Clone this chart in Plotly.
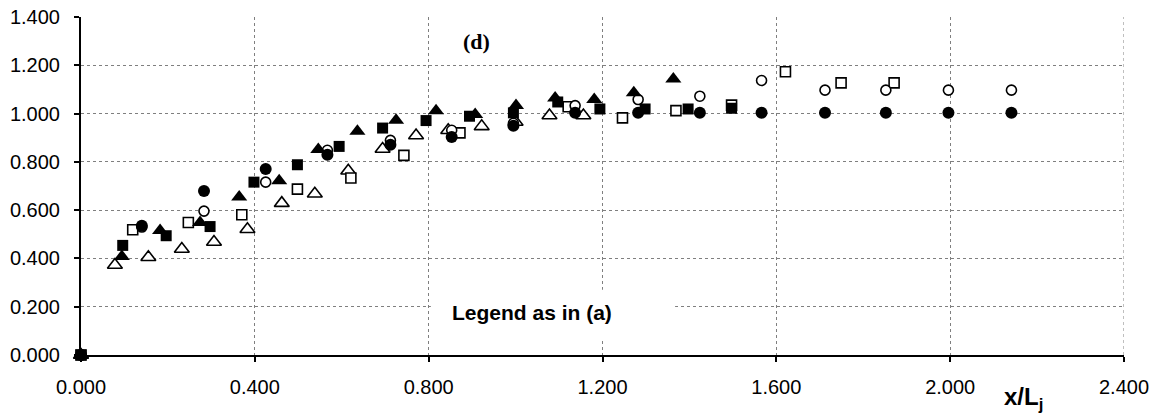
import plotly.graph_objects as go

# Filled circles
fc_x = [0.000, 0.140, 0.283, 0.425, 0.567, 0.712, 0.853, 0.995, 1.137, 1.282, 1.424, 1.566, 1.712, 1.852, 1.996, 2.141]
fc_y = [0.000, 0.535, 0.679, 0.770, 0.829, 0.871, 0.903, 0.950, 1.003, 1.003, 1.003, 1.003, 1.003, 1.003, 1.003, 1.003]
# Open circles
oc_x = [0.000, 0.140, 0.283, 0.425, 0.567, 0.712, 0.853, 0.995, 1.137, 1.282, 1.424, 1.566, 1.712, 1.852, 1.996, 2.141]
oc_y = [0.000, 0.530, 0.596, 0.716, 0.848, 0.889, 0.931, 0.960, 1.033, 1.058, 1.072, 1.137, 1.097, 1.097, 1.097, 1.097]
# Filled squares
fs_x = [0.000, 0.096, 0.196, 0.297, 0.398, 0.498, 0.594, 0.694, 0.794, 0.894, 0.995, 1.097, 1.194, 1.298, 1.397, 1.497]
fs_y = [0.000, 0.454, 0.494, 0.532, 0.716, 0.788, 0.864, 0.940, 0.971, 0.989, 1.003, 1.048, 1.019, 1.019, 1.019, 1.022]
# Open squares
os_x = [0.000, 0.119, 0.247, 0.370, 0.498, 0.621, 0.743, 0.872, 1.121, 1.246, 1.369, 1.497, 1.621, 1.749, 1.871]
os_y = [0.000, 0.519, 0.549, 0.581, 0.687, 0.733, 0.827, 0.920, 1.028, 0.982, 1.012, 1.035, 1.173, 1.127, 1.127]
# Filled triangles
ft_x = [0.000, 0.094, 0.182, 0.274, 0.364, 0.456, 0.546, 0.636, 0.725, 0.817, 0.907, 1.001, 1.091, 1.181, 1.272, 1.363]
ft_y = [0.000, 0.408, 0.516, 0.549, 0.654, 0.722, 0.851, 0.927, 0.972, 1.012, 0.996, 1.033, 1.065, 1.058, 1.086, 1.143]
# Open triangles
ot_x = [0.000, 0.078, 0.155, 0.232, 0.306, 0.383, 0.462, 0.538, 0.615, 0.694, 0.771, 0.845, 0.922, 1.000, 1.078, 1.156]
ot_y = [0.000, 0.373, 0.405, 0.439, 0.468, 0.521, 0.629, 0.668, 0.763, 0.853, 0.909, 0.931, 0.947, 0.965, 0.992, 0.992]

x_ticks = [0.0, 0.4, 0.8, 1.2, 1.6, 2.0, 2.4]
y_ticks = [0.0, 0.2, 0.4, 0.6, 0.8, 1.0, 1.2, 1.4]

fig = go.Figure()

def add(xs, ys, symbol, size, filled):
    fig.add_trace(go.Scatter(
        x=xs, y=ys, mode="markers", showlegend=False, cliponaxis=False,
        marker=dict(symbol=symbol, size=size,
                    color="black" if filled else "white",
                    line=dict(color="black", width=0 if filled else 1.6)),
    ))

add(ot_x, ot_y, "triangle-up", 13, False)
add(os_x, os_y, "square", 10, False)
add(oc_x, oc_y, "circle", 10, False)
add(ft_x, ft_y, "triangle-up", 14, True)
add(fs_x, fs_y, "square", 11, True)
add(fc_x, fc_y, "circle", 12, True)

fig.add_shape(type="rect", x0=0.805, x1=1.367, y0=0.062, y1=0.27,
              xref="x", yref="y", fillcolor="white", line=dict(width=0),
              layer="between")
fig.add_shape(type="line", x0=2.4, x1=2.4, y0=0, y1=1.4, xref="x", yref="y",
              line=dict(color="#7f7f7f", width=1, dash="dot"), layer="between")

fig.add_annotation(x=1.037, y=0.174, xref="x", yref="y", text="<b>Legend as in (a)</b>",
                   showarrow=False, font=dict(family="Liberation Sans, Arial", size=21, color="black"))
fig.add_annotation(x=0.909, y=1.299, xref="x", yref="y", text="<b>(d)</b>",
                   showarrow=False, font=dict(family="Liberation Serif, Times New Roman", size=22, color="black"))
fig.add_annotation(x=0.924, y=-0.128, xref="paper", yref="paper", text="<b>x/L<sub>j</sub></b>",
                   showarrow=False, yanchor="middle",
                   font=dict(family="Liberation Sans, Arial", size=24, color="black"))

axis_common = dict(
    showgrid=True, gridcolor="#7f7f7f", gridwidth=1, griddash="dot",
    showline=True, linecolor="black", linewidth=2,
    ticks="outside", ticklen=5, tickwidth=1.5, tickcolor="black",
    tickformat=".3f", zeroline=False, automargin=False,
    tickfont=dict(family="Liberation Sans, Arial", size=20, color="black"),
)

fig.update_xaxes(range=[0, 2.4], tickvals=x_ticks, ticklabelstandoff=8, **axis_common)
fig.update_yaxes(range=[0, 1.4], tickvals=y_ticks, ticklabelstandoff=10, **axis_common)

fig.update_layout(
    width=1159, height=418,
    margin=dict(l=81, r=35, t=17, b=63),
    plot_bgcolor="white", paper_bgcolor="white",
)

fig.write_html("out.html", config={"displayModeBar": False},
               post_script="document.body.style.margin='0';document.body.style.overflow='hidden';")
